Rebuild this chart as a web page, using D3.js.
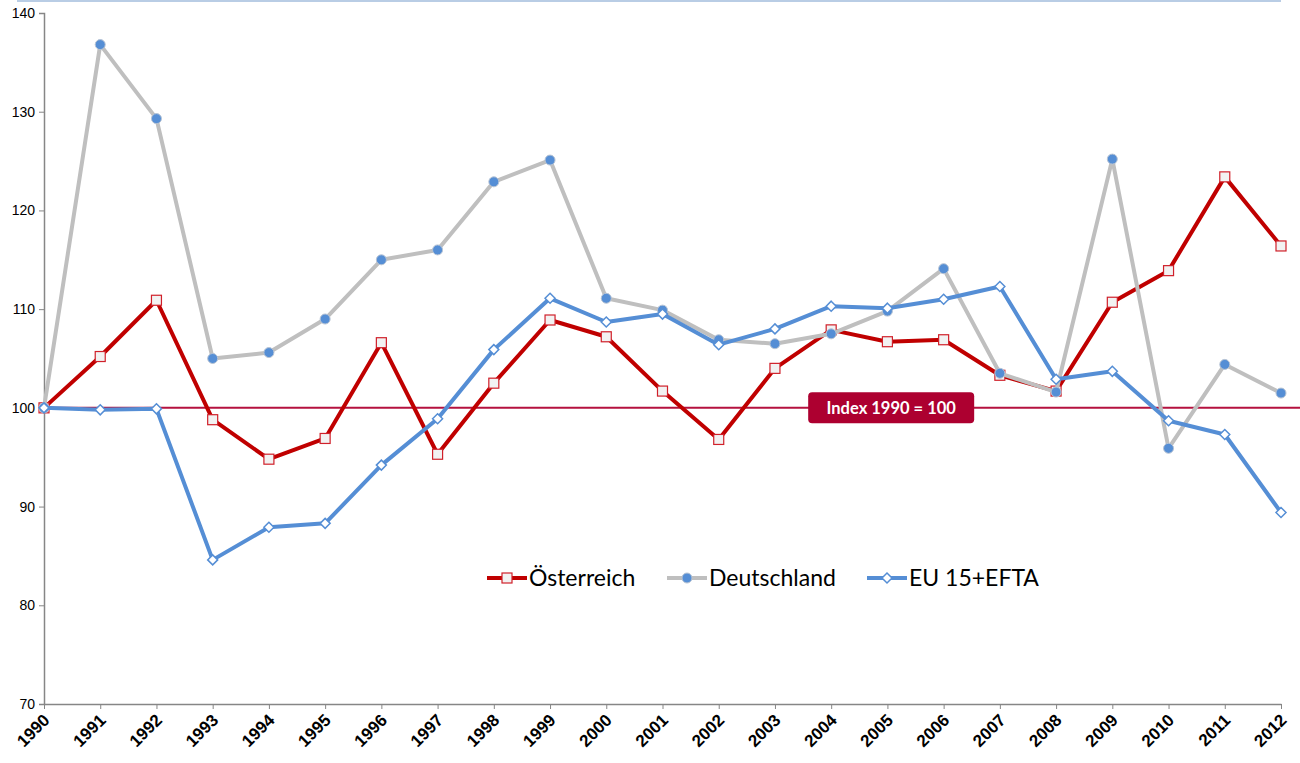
<!DOCTYPE html>
<html>
<head>
<meta charset="utf-8">
<script src="https://cdn.jsdelivr.net/npm/d3@7"></script>
<style>
  body { margin: 0; background: #fff; }
  svg { display: block; font-family: Lato, "Open Sans", sans-serif; }
</style>
</head>
<body>
<div id="chart"></div>
<script>
// Data
const years = [1990, 1991, 1992, 1993, 1994, 1995, 1996, 1997, 1998, 1999, 2000, 2001,
  2002, 2003, 2004, 2005, 2006, 2007, 2008, 2009, 2010, 2011, 2012];
const oesterreich = [100, 105.2, 110.9, 98.8, 94.8, 96.9, 106.6, 95.3, 102.5, 108.9, 107.2, 101.7,
  96.8, 104.0, 107.9, 106.7, 106.9, 103.3, 101.7, 110.7, 113.9, 123.4, 116.4];
const deutschland = [100, 136.8, 129.3, 105.0, 105.6, 109.0, 115.0, 116.0, 122.9, 125.1, 111.1, 109.9,
  106.9, 106.5, 107.5, 109.8, 114.1, 103.5, 101.6, 125.2, 95.9, 104.4, 101.5];
const eu15efta = [100, 99.8, 99.9, 84.6, 87.9, 88.3, 94.2, 98.9, 105.9, 111.1, 108.7, 109.5,
  106.4, 108.0, 110.3, 110.1, 111.0, 112.3, 102.9, 103.7, 98.7, 97.3, 89.4];
const yTicks = [70, 80, 90, 100, 110, 120, 130, 140];
const refValue = 100;
const refLabel = 'Index 1990 = 100';

const W = 1300, H = 763;
const margin = { top: 13, right: 19, bottom: 59, left: 44 };

const svg = d3.select('#chart').append('svg')
  .attr('width', W)
  .attr('height', H);

// Scales
const x = d3.scalePoint()
  .domain(years)
  .range([margin.left, W - margin.right]);

const y = d3.scaleLinear()
  .domain([70, 140])
  .range([H - margin.bottom, margin.top]);

// Thin light blue line at the very top
svg.append('line')
  .attr('x1', 17).attr('x2', W - margin.right)
  .attr('y1', 1).attr('y2', 1)
  .attr('stroke', '#b9cde5')
  .attr('stroke-width', 2);

// Y axis
const yAxis = svg.append('g')
  .attr('transform', `translate(${margin.left},0)`)
  .call(d3.axisLeft(y).tickValues(yTicks).tickSize(5).tickPadding(4));
yAxis.select('.domain').attr('stroke', '#868686').attr('stroke-width', 1.5);
yAxis.selectAll('.tick line').attr('stroke', '#868686');
yAxis.selectAll('.tick text')
  .style('font-size', '14px')
  .attr('fill', '#000');

// X axis
const xAxis = svg.append('g')
  .attr('transform', `translate(0,${H - margin.bottom})`)
  .call(d3.axisBottom(x).tickSize(5).tickSizeOuter(0));
xAxis.select('.domain').attr('stroke', '#868686').attr('stroke-width', 1.5);
xAxis.selectAll('.tick line').attr('stroke', '#868686');
xAxis.selectAll('.tick text')
  .style('font-size', '17px')
  .style('font-weight', 'bold')
  .attr('fill', '#000')
  .attr('text-anchor', 'end')
  .attr('x', 0)
  .attr('y', 0)
  .attr('dy', '0.35em')
  .attr('transform', 'translate(2,13) rotate(-45)');

// Reference line at 100
svg.append('line')
  .attr('x1', margin.left).attr('x2', W)
  .attr('y1', y(refValue)).attr('y2', y(refValue))
  .attr('stroke', '#b5123f')
  .attr('stroke-width', 2);

const line = d3.line()
  .x((d, i) => x(years[i]))
  .y(d => y(d));

// Series: draw order red, gray, blue
const series = [
  { name: 'Österreich', values: oesterreich, color: '#c00000', marker: 'square' },
  { name: 'Deutschland', values: deutschland, color: '#bfbfbf', marker: 'circle' },
  { name: 'EU 15+EFTA', values: eu15efta, color: '#558ed5', marker: 'diamond' }
];

function drawMarker(g, type, cx, cy) {
  if (type === 'square') {
    g.append('rect')
      .attr('x', cx - 5).attr('y', cy - 5)
      .attr('width', 10).attr('height', 10)
      .attr('fill', '#f2f2f2')
      .attr('stroke', '#d0202a')
      .attr('stroke-width', 1.2);
  } else if (type === 'circle') {
    g.append('circle')
      .attr('cx', cx).attr('cy', cy).attr('r', 5)
      .attr('fill', '#558ed5')
      .attr('stroke', '#b8c4d4')
      .attr('stroke-width', 1);
  } else {
    g.append('path')
      .attr('d', `M${cx},${cy - 5}L${cx + 5},${cy}L${cx},${cy + 5}L${cx - 5},${cy}Z`)
      .attr('fill', '#fff')
      .attr('stroke', '#558ed5')
      .attr('stroke-width', 1.5);
  }
}

series.forEach(s => {
  const g = svg.append('g');
  g.append('path')
    .datum(s.values)
    .attr('d', line)
    .attr('fill', 'none')
    .attr('stroke', s.color)
    .attr('stroke-width', 4)
    .attr('stroke-linejoin', 'round');
  s.values.forEach((v, i) => drawMarker(g, s.marker, x(years[i]), y(v)));
});

// Label box for reference line
const boxW = 166, boxH = 31;
const boxX = x(2004) - 23;
const lbl = svg.append('g');
lbl.append('rect')
  .attr('x', boxX).attr('y', y(refValue) - boxH / 2)
  .attr('width', boxW).attr('height', boxH)
  .attr('rx', 4)
  .attr('fill', '#ad0030');
lbl.append('text')
  .attr('x', boxX + boxW / 2).attr('y', y(refValue) + 6)
  .attr('text-anchor', 'middle')
  .style('font-size', '16.5px')
  .style('font-weight', 'bold')
  .attr('fill', '#fff')
  .text(refLabel);

// Legend
const legendX = [487, 667, 867];
const legendY = 578;
series.forEach((s, i) => {
  const g = svg.append('g');
  g.append('line')
    .attr('x1', legendX[i]).attr('x2', legendX[i] + 40)
    .attr('y1', legendY).attr('y2', legendY)
    .attr('stroke', s.color)
    .attr('stroke-width', 4);
  drawMarker(g, s.marker, legendX[i] + 20, legendY);
  g.append('text')
    .attr('x', legendX[i] + 42).attr('y', legendY + 8)
    .style('font-size', '23px')
    .attr('fill', '#000')
    .text(s.name);
});
</script>
</body>
</html>
